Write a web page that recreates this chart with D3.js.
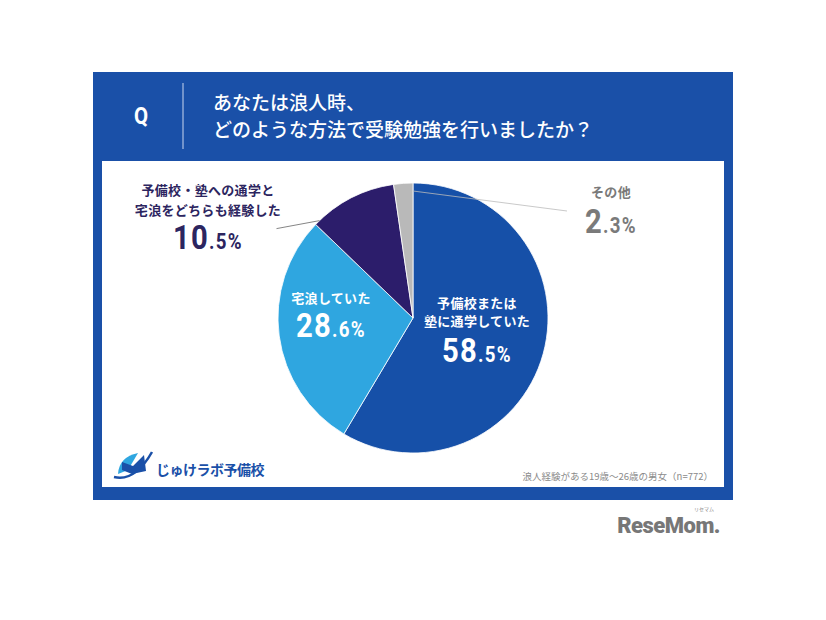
<!DOCTYPE html>
<html><head><meta charset="utf-8">
<script src="https://cdn.jsdelivr.net/npm/d3@7"></script>
<style>body{margin:0;background:#fff}svg{display:block}</style>
</head><body>
<script>
const categories = ["予備校または塾に通学していた","宅浪していた","予備校・塾への通学と宅浪をどちらも経験した","その他"];
const labelLines = [["予備校または","塾に通学していた"],["宅浪していた"],["予備校・塾への通学と","宅浪をどちらも経験した"],["その他"]];
const values = [58.5, 28.6, 10.5, 2.3];
const colors = ["#1650a8","#2fa6e0","#2c1d6b","#b9b9b9"];
const titleLines = ["あなたは浪人時、","どのような方法で受験勉強を行いましたか？"];
const footnote = "浪人経験がある19歳～26歳の男女（n=772）";

const W=826,H=620;
const svg=d3.select("body").append("svg").attr("width",W).attr("height",H);
const font="'Noto Sans CJK JP','Noto Sans',sans-serif";
const numFont="'Roboto','Liberation Sans',sans-serif";

// panel
svg.append("rect").attr("x",93).attr("y",72).attr("width",640).attr("height",428).attr("fill","#1a50a8");
svg.append("rect").attr("x",102).attr("y",161).attr("width",622).attr("height",326).attr("fill","#fff");
svg.append("text").attr("transform","translate(141,124) scale(0.85,1)").attr("text-anchor","middle").attr("fill","#fff")
  .attr("font-family",numFont).attr("font-weight","700").attr("font-size",24).text("Q");
svg.append("line").attr("x1",183).attr("x2",183).attr("y1",83).attr("y2",149).attr("stroke","#c9d6ee").attr("stroke-width",1);
svg.selectAll("text.title").data(titleLines).enter().append("text").attr("class","title")
  .attr("x",213).attr("y",(d,i)=>110+i*27).attr("fill","#fff").attr("font-family",font)
  .attr("font-weight","500").attr("font-size",19).text(d=>d);

// pie
const cx=413,cy=318,R=135;
const pie=d3.pie().sort(null).value(d=>d)(values);
const arc=d3.arc().innerRadius(0).outerRadius(R);
const g=svg.append("g").attr("transform",`translate(${cx},${cy})`);
g.selectAll("path").data(pie).enter().append("path").attr("d",arc)
  .attr("fill",(d,i)=>colors[i]).attr("stroke","#fff").attr("stroke-width",0.8);

// leader lines
const a2=pie[2].startAngle+0.04;
const ex=cx+Math.sin(a2)*R, ey=cy-Math.cos(a2)*R;
svg.append("line").attr("x1",ex-43).attr("y1",ey+8).attr("x2",ex).attr("y2",ey).attr("stroke","#666").attr("stroke-width",0.8);
const a3=pie[3].endAngle;
svg.append("line").attr("x1",cx+Math.sin(a3)*(R-8)).attr("y1",cy-Math.cos(a3)*(R-8)).attr("x2",567).attr("y2",211).attr("stroke","#bbb").attr("stroke-width",0.8);

function label(x,ys,lines,pct,pctBase,color,lsize,psize){
  const t=svg.append("g");
  lines.forEach((l,i)=>t.append("text").attr("x",x).attr("y",ys[i]).attr("text-anchor","middle")
    .attr("fill",color).attr("font-family",font).attr("font-weight","700").attr("font-size",lsize)
    .attr("letter-spacing",0.3).text(l));
  const parts=d3.format(".1f")(pct).split(".");
  const tx=t.append("text").attr("transform",`translate(${x},${pctBase}) scale(0.86,1)`).attr("text-anchor","middle")
    .attr("fill",color).attr("font-family",numFont).attr("font-weight","700").attr("letter-spacing",1.5);
  tx.append("tspan").attr("font-size",psize).text(parts[0]);
  tx.append("tspan").attr("font-size",psize*0.64).text("."+parts[1]+"%");
}
label(477,[308,326],labelLines[0],values[0],362,"#fff",13,34);
label(331,[303],labelLines[1],values[1],337,"#fff",13,34);
label(208,[195,215],labelLines[2],values[2],249,"#2c2560",13,34);
label(611,[197],labelLines[3],values[3],233,"#7a7a7a",13,34);

// logo
const lg=svg.append("g");
lg.append("path").attr("d","M118,474 Q119,457 138,453 L128,470 Z").attr("fill","#2fa6e0");
lg.append("path").attr("d","M122,462 L133,466 L144,455 L146,471 L132,474 L122,470 Z").attr("fill","#1a50a8");
lg.append("path").attr("d","M114,477 Q135,482 152,452").attr("fill","none").attr("stroke","#1a50a8").attr("stroke-width",2.5);
lg.append("text").attr("x",156).attr("y",475).attr("fill","#1a50a8").attr("font-family",font)
  .attr("font-weight","700").attr("font-size",14).attr("letter-spacing",-0.5).text("じゅけラボ予備校");
svg.append("text").attr("x",713).attr("y",480).attr("text-anchor","end").attr("fill","#8a8a8a")
  .attr("font-family",font).attr("font-size",9.5).text(footnote);

// ReseMom
svg.append("text").attr("x",720).attr("y",533).attr("text-anchor","end").attr("fill","#777")
  .attr("font-family","'Roboto','DejaVu Sans',sans-serif").attr("font-weight","900").attr("font-size",22).attr("letter-spacing",-0.5).text("ReseMom.");
svg.append("text").attr("x",704).attr("y",511).attr("text-anchor","middle").attr("fill","#888")
  .attr("font-family",font).attr("font-size",5).text("リセマム");
</script>
</body></html>
